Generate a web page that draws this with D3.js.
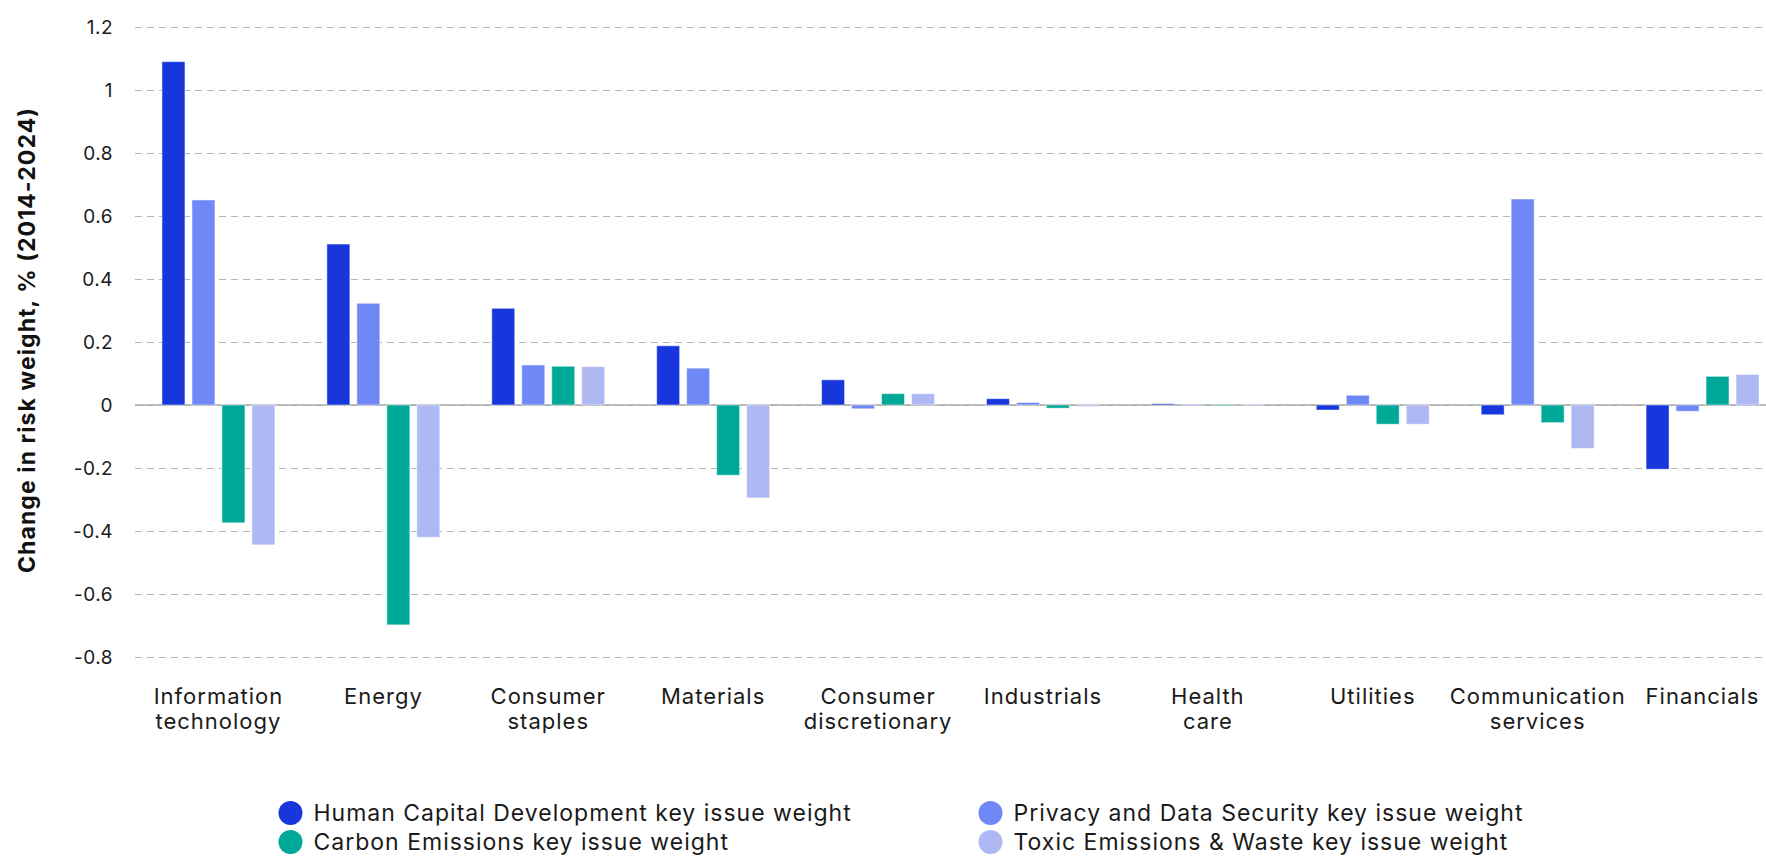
<!DOCTYPE html>
<html>
<head>
<meta charset="utf-8">
<script src="https://cdn.jsdelivr.net/npm/d3@7"></script>
<style>
  body { margin: 0; background: #fff; }
  svg { display: block; font-family: Inter, "Noto Sans", sans-serif; }
</style>
</head>
<body>
<div id="chart"></div>
<script>
"use strict";

// sectors (multi-line labels split with |)
const categories = [
    "Information|technology", "Energy", "Consumer|staples", "Materials",
    "Consumer|discretionary", "Industrials", "Health|care", "Utilities",
    "Communication|services", "Financials"
];

// change in risk weight, % (2014-2024), one array per key issue
const humanCapital = [1.09, 0.511, 0.307, 0.188, 0.08, 0.02, 0.004, -0.016, -0.031, -0.204];
const privacyData = [0.651, 0.323, 0.127, 0.117, -0.012, 0.008, -0.003, 0.031, 0.654, -0.02];
const carbonEmissions = [-0.374, -0.698, 0.123, -0.223, 0.036, -0.01, -0.003, -0.061, -0.056, 0.091];
const toxicEmissions = [-0.444, -0.42, 0.122, -0.295, 0.036, -0.005, 0.003, -0.061, -0.138, 0.097];

const seriesNames = [
    "Human Capital Development key issue weight",
    "Privacy and Data Security key issue weight",
    "Carbon Emissions key issue weight",
    "Toxic Emissions & Waste key issue weight"
];
const seriesColors = ["#1737dd", "#7088f6", "#00a897", "#aeb9f4"];
const yTicks = [-0.8, -0.6, -0.4, -0.2, 0, 0.2, 0.4, 0.6, 0.8, 1, 1.2];

const allSeries = [humanCapital, privacyData, carbonEmissions, toxicEmissions];

const width = 1766, height = 859;

const svg = d3.select("#chart").append("svg")
    .attr("width", width)
    .attr("height", height);

// scales
const x0 = d3.scaleBand()
    .domain(categories)
    .range([136, 1785])
    .paddingInner(0.315)
    .paddingOuter(0.1575);

const x1 = d3.scaleBand()
    .domain(d3.range(seriesNames.length))
    .range([0, x0.bandwidth()])
    .paddingInner(0.233);

const y = d3.scaleLinear()
    .domain([-0.8, 1.2])
    .range([657, 27]);

// dashed gridlines + tick labels
const yAxis = d3.axisLeft(y)
    .tickValues(yTicks)
    .tickSize(-(1763 - 135))
    .tickPadding(22)
    .tickFormat(d => d === 0 ? "0" : String(+d.toFixed(1)));

const gy = svg.append("g")
    .attr("transform", "translate(135,0)")
    .call(yAxis);
gy.select(".domain").remove();
gy.selectAll(".tick line")
    .attr("stroke", "#b3b3b3")
    .attr("stroke-dasharray", "7,5")
    .attr("stroke-width", 1);
gy.selectAll(".tick text")
    .attr("fill", "#1a1a1a")
    .attr("font-size", 19)
    .attr("letter-spacing", "0.5px")
    .attr("font-family", "Inter, sans-serif");

// zero line
svg.append("line")
    .attr("x1", 135).attr("x2", 1766)
    .attr("y1", y(0)).attr("y2", y(0))
    .attr("stroke", "#a9a9a9")
    .attr("stroke-width", 1.5);

// bars
const groups = svg.append("g")
    .selectAll("g")
    .data(categories)
    .join("g")
    .attr("transform", d => `translate(${x0(d)},0)`);

groups.selectAll("rect")
    .data((d, i) => allSeries.map((s, k) => ({ k: k, v: s[i] })))
    .join("rect")
    .attr("x", d => x1(d.k))
    .attr("width", x1.bandwidth())
    .attr("y", d => y(Math.max(0, d.v)))
    .attr("height", d => Math.max(0.8, Math.abs(y(d.v) - y(0))))
    .attr("fill", d => seriesColors[d.k])
    .attr("stroke", "#ffffff")
    .attr("stroke-opacity", 0.5)
    .attr("stroke-width", 1);

// category labels
const catLabels = svg.append("g")
    .selectAll("text")
    .data(categories)
    .join("text")
    .attr("x", d => x0(d) + x0.bandwidth() / 2)
    .attr("y", 704)
    .attr("text-anchor", "middle")
    .attr("font-size", 22)
    .attr("letter-spacing", "1px")
    .attr("fill", "#1a1a1a");

catLabels.selectAll("tspan")
    .data(d => d.split("|"))
    .join("tspan")
    .attr("x", function () { return d3.select(this.parentNode).attr("x"); })
    .attr("dy", (d, i) => i === 0 ? 0 : 25)
    .text(d => d);

// y axis title
svg.append("text")
    .attr("transform", "translate(35,340) rotate(-90)")
    .attr("text-anchor", "middle")
    .attr("font-size", 23)
    .attr("letter-spacing", "1.1px")
    .attr("font-weight", 700)
    .attr("fill", "#111")
    .text("Change in risk weight, % (2014-2024)");

// legend, two columns
const legendCols = [290.5, 990.5];
const legendRows = [813, 842];

const legend = svg.append("g")
    .selectAll("g")
    .data(seriesNames)
    .join("g")
    .attr("transform", (d, i) => `translate(${legendCols[i % 2]},${legendRows[Math.floor(i / 2)]})`);

legend.append("circle")
    .attr("r", 12)
    .attr("fill", (d, i) => seriesColors[i]);

legend.append("text")
    .attr("x", 23)
    .attr("dy", "0.35em")
    .attr("font-size", 23)
    .attr("letter-spacing", "1px")
    .attr("fill", "#1a1a1a")
    .text(d => d);
</script>
</body>
</html>
